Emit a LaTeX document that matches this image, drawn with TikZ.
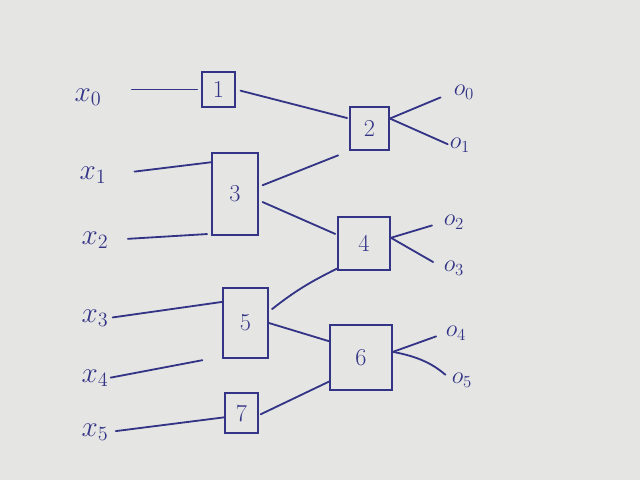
\documentclass[tikz,border=0pt]{standalone}
\usepackage{tikz}

\definecolor{ink}{RGB}{52,52,135}
\definecolor{paper}{RGB}{229,230,227}

\tikzset{
  block/.style={draw=ink, line width=1.3pt, inner sep=0pt, text=ink, font=\LARGE},
  wire/.style={draw=ink, line width=1.3pt, line cap=round},
  inlabel/.style={text=ink, inner sep=0pt, font=\huge},
  outlabel/.style={text=ink, inner sep=0pt, font=\LARGE},
}

\begin{document}
\begin{tikzpicture}[x=0.025cm, y=-0.025cm]
  % --- sheet ---
  \fill[paper] (0,0) rectangle (640,480);
  \useasboundingbox (0,0) rectangle (640,480);

  % --- blocks ---
  \node[block, minimum width=0.825cm, minimum height=0.875cm] (b1) at (218.5,89.5) {1};
  \node[block, minimum width=0.975cm, minimum height=1.075cm] (b2) at (369.5,128.5) {2};
  \node[block, minimum width=1.15cm,  minimum height=2.05cm]  (b3) at (235,194) {3};
  \node[block, minimum width=1.3cm,   minimum height=1.325cm] (b4) at (364,243.5) {4};
  \node[block, minimum width=1.125cm, minimum height=1.75cm]  (b5) at (245.5,323) {5};
  \node[block, minimum width=1.55cm,  minimum height=1.625cm] (b6) at (361,357.5) {6};
  \node[block, minimum width=0.825cm, minimum height=1.0cm]   (b7) at (241.5,413) {7};

  % --- inputs ---
  \node[inlabel] (x0) at (88,97)  {$x_0$};
  \node[inlabel] (x1) at (93,175) {$x_1$};
  \node[inlabel] (x2) at (95,240) {$x_2$};
  \node[inlabel] (x3) at (95,318) {$x_3$};
  \node[inlabel] (x4) at (95,378) {$x_4$};
  \node[inlabel] (x5) at (95,432) {$x_5$};

  % --- outputs ---
  \node[outlabel] (o0) at (464,92)  {$o_0$};
  \node[outlabel] (o1) at (460,145) {$o_1$};
  \node[outlabel] (o2) at (454,222) {$o_2$};
  \node[outlabel] (o3) at (454,268) {$o_3$};
  \node[outlabel] (o4) at (456,333) {$o_4$};
  \node[outlabel] (o5) at (462,380) {$o_5$};

  % input wires
  \draw[wire, shorten <=0.75cm, shorten >=0.1cm] (b1.west -| x0.east) -- (b1.west);
  \draw[wire, shorten <=0.7cm]  (x1.east) -- (b3.127);
  \draw[wire, shorten <=0.48cm, shorten >=0.1cm] (x2.east) -- (b3.239);
  \draw[wire, shorten <=0.1cm]  (x3.east) -- (b5.138);
  \draw[wire, shorten <=0.05cm, shorten >=0.5cm] (x4.east) -- (b5.235);
  \draw[wire, shorten <=0.18cm] (x5.east) -- (b7.194);

  % block to block
  \draw[wire, shorten <=0.12cm, shorten >=0.05cm] (b1.east) -- (b2.154);
  \draw[wire, shorten <=0.1cm,  shorten >=0.3cm]  (b3.17) -- (b2.228);
  \draw[wire, shorten <=0.1cm,  shorten >=0.05cm] (b3.345) -- (b4.162);
  \draw[wire, shorten <=0.1cm] (b5.26) to[bend left=6] (b4.223);
  \draw[wire] (b5.east) -- (b6.153);
  \draw[wire, shorten <=0.05cm] (b7.353) -- (b6.217);

  % output wires
  \draw[wire, shorten >=0.35cm] (b2.26) -- (o0.west);
  \draw[wire, shorten >=0.05cm] (b2.26) -- (o1.west);
  \draw[wire, shorten >=0.3cm]  (b4.12) -- (o2.west);
  \draw[wire, shorten >=0.3cm]  (b4.12) -- (o3.west);
  \draw[wire, shorten >=0.25cm] (b6.10) -- (o4.west);
  \draw[wire, shorten >=0.2cm]  (b6.10) to[bend left=15] (o5.west);
\end{tikzpicture}
\end{document}
